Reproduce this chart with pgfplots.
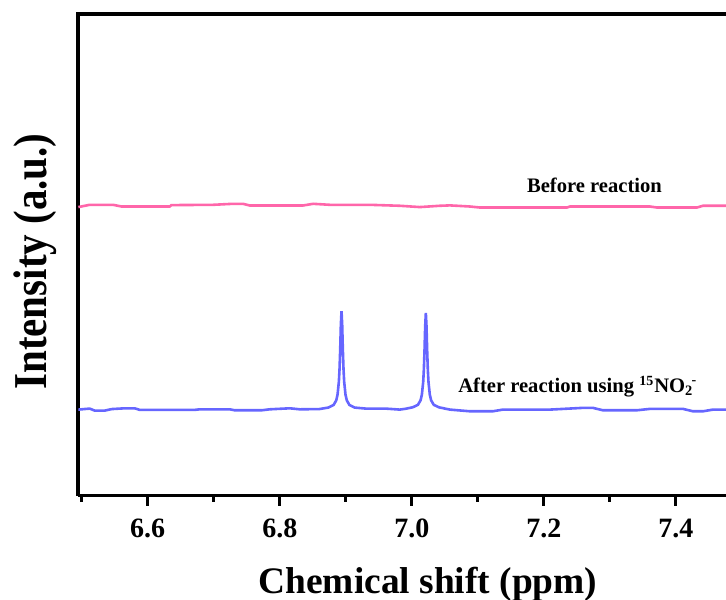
\documentclass[border=0pt]{standalone}
\usepackage{pgfplots}
\pgfplotsset{compat=1.18}
\usepackage{fontspec}
\setmainfont{Liberation Serif}
\usetikzlibrary{calc}

\definecolor{before}{RGB}{255,102,170}
\definecolor{after}{RGB}{102,102,255}

\begin{document}
\begin{tikzpicture}
\begin{axis}[
  scale only axis,
  width=324pt, height=240.75pt,
  xmin=6.4944, xmax=7.4758,
  ymin=0, ymax=1,
  clip=false,
  axis x line*=bottom,
  axis y line*=left,
  axis line style={line width=1.8pt},
  xtick={6.6,6.8,7.0,7.2,7.4},
  minor xtick={6.5,6.7,6.9,7.1,7.3},
  ytick=\empty,
  tick align=outside,
  major tick length=5pt,
  minor tick length=3pt,
  every tick/.style={black, line width=1.5pt},
  xticklabel style={font=\fontsize{14}{16}\selectfont\bfseries, anchor=base, yshift=-16.2pt},
  /pgf/number format/assume math mode=true,
  /pgf/number format/fixed,
  /pgf/number format/fixed zerofill,
  /pgf/number format/precision=1,
  xlabel={Chemical shift (ppm)},
  ylabel={Intensity (a.u.)},
  every axis x label/.style={at={(rel axis cs:0.540,0)}, anchor=base, yshift=-48.75pt,
    font=\fontsize{18.7}{22}\selectfont\bfseries},
  every axis y label/.style={at={(rel axis cs:0,0.486)}, rotate=90, anchor=base, yshift=15.5pt,
    yscale=1.15, font=\fontsize{20.5}{24}\selectfont\bfseries},
]
% top and left frame lines (the right side is open)
\draw[line width=1.8pt] (rel axis cs:0,0) -- (rel axis cs:0,1) -- (rel axis cs:1,1);

% spectrum before reaction
\addplot[before, line width=1.3pt] coordinates {
(6.4950,0.5990) (6.5121,0.6037) (6.5474,0.6037) (6.5602,0.6002) (6.6333,0.6002)
(6.6359,0.6031) (6.6989,0.6037) (6.7292,0.6058) (6.7444,0.6058) (6.7545,0.6023)
(6.8353,0.6023) (6.8505,0.6058) (6.8758,0.6037) (6.9364,0.6037) (6.9818,0.6017)
(7.0121,0.5990) (7.0424,0.6017) (7.0576,0.6025) (7.0879,0.6002) (7.1030,0.5981)
(7.2348,0.5981) (7.2394,0.6002) (7.3606,0.6002) (7.3712,0.5981) (7.4318,0.5981)
(7.4409,0.6017) (7.4758,0.6017)
};

% spectrum after reaction with 15NO2-: 15NH4+ doublet
\addplot[after, line width=1.3pt] coordinates {
(6.4950,0.1784) (6.5121,0.1805) (6.5197,0.1763) (6.5348,0.1763) (6.5455,0.1795)
(6.5652,0.1811) (6.5803,0.1811) (6.5879,0.1778) (6.6712,0.1778) (6.6788,0.1790)
(6.7242,0.1790) (6.7318,0.1770) (6.7727,0.1770) (6.7848,0.1790) (6.8152,0.1811)
(6.8303,0.1790) (6.8600,0.1795)
(6.8735,0.1826) (6.8815,0.1880) (6.8855,0.1976) (6.8875,0.2096) (6.8895,0.2367)
(6.8905,0.2629) (6.8915,0.3036) (6.8925,0.3549) (6.8935,0.3830) (6.8945,0.3549)
(6.8955,0.3036) (6.8965,0.2629) (6.8975,0.2367) (6.8995,0.2096) (6.9015,0.1976)
(6.9055,0.1880) (6.9135,0.1826)
(6.9300,0.1805) (6.9600,0.1805) (6.9818,0.1784) (6.9900,0.1800)
(7.0012,0.1831) (7.0092,0.1883) (7.0132,0.1977) (7.0152,0.2095) (7.0172,0.2359)
(7.0182,0.2616) (7.0192,0.3014) (7.0202,0.3515) (7.0212,0.3790) (7.0222,0.3515)
(7.0232,0.3014) (7.0242,0.2616) (7.0252,0.2359) (7.0272,0.2095) (7.0292,0.1977)
(7.0332,0.1883) (7.0412,0.1831)
(7.0576,0.1784) (7.0879,0.1749) (7.1227,0.1749) (7.1379,0.1784) (7.2091,0.1784)
(7.2591,0.1820) (7.2742,0.1820) (7.2894,0.1770) (7.3409,0.1770) (7.3606,0.1799)
(7.4106,0.1799) (7.4258,0.1749) (7.4409,0.1749) (7.4561,0.1784) (7.4758,0.1784)
};

\node[anchor=base, inner sep=0pt, font=\fontsize{10.3}{12}\selectfont\bfseries] at (axis cs:7.2765,0.630) {Before reaction};
\node[anchor=base west, inner sep=0pt, font=\fontsize{10.3}{12}\selectfont\bfseries] at (axis cs:7.0697,0.2129)
  {After reaction using \textsuperscript{\scriptsize 15}NO\textsubscript{2}\kern-0.08em\raisebox{0.9ex}{\scriptsize -}};
\end{axis}
\pgfresetboundingbox
\path[use as bounding box] ($(current axis.south west)+(-39pt,-51.75pt)$) rectangle ($(current axis.north east)+(0pt,7pt)$);
\end{tikzpicture}
\end{document}
